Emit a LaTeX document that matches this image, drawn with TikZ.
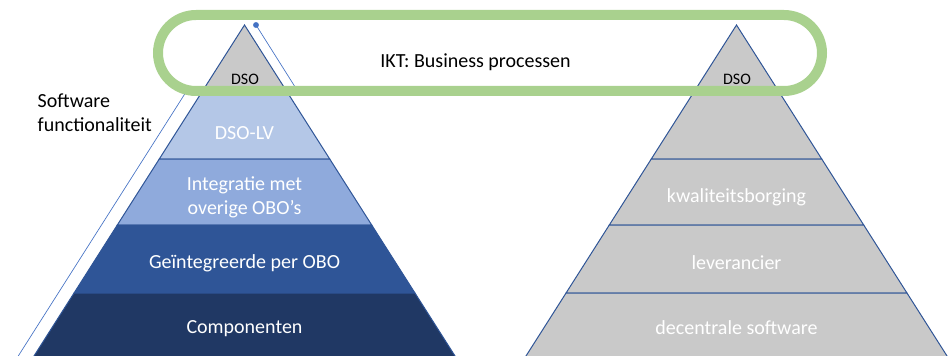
\documentclass[tikz,border=0pt]{standalone}
\usepackage{fontspec}
\setmainfont{Carlito}
\usepackage{tikz}

\definecolor{groen}{HTML}{A9D18E}
\definecolor{rand}{HTML}{2F5597}
\definecolor{lijnblauw}{HTML}{4472C4}
\definecolor{grijs}{HTML}{C9C9C9}
\definecolor{lichtblauw}{HTML}{B4C7E7}
\definecolor{middenblauw}{HTML}{8FAADC}
\definecolor{blauw}{HTML}{2F5597}
\definecolor{donkerblauw}{HTML}{203864}

\begin{document}
\begin{tikzpicture}[x=0.75pt,y=-0.75pt]
	\tikzstyle{laag}=[draw=rand, line width=0.75pt]
	\tikzstyle{tekst}=[font=\fontsize{15}{18}\selectfont, text=white, align=center]
	\tikzstyle{klein}=[font=\fontsize{12}{14}\selectfont, text=black]
	\tikzstyle{dun}=[draw=lijnblauw, line width=0.5pt]
	\tikzstyle{kader}=[draw=groen, line width=7.5pt, rounded corners=28.5pt]

	\useasboundingbox (0,0) rectangle (948,356);
	\clip (0,0) rectangle (948,356);

	% linker piramide
	\foreach \boven/\onder/\kleur in {25/92/grijs,92/159/lichtblauw,159/225/middenblauw,225/293/blauw,293/372/donkerblauw}{
		\pgfmathsetmacro\a{0.636*(\boven-25)}
		\pgfmathsetmacro\b{0.636*(\onder-25)}
		\filldraw[laag, fill=\kleur] (244.5-\a,\boven) -- (244.5+\a,\boven) -- (244.5+\b,\onder) -- (244.5-\b,\onder) -- cycle;
	}

	% rechter piramide
	\foreach \boven/\onder in {25/159,159/225,225/293,293/372}{
		\pgfmathsetmacro\a{0.636*(\boven-25)}
		\pgfmathsetmacro\b{0.636*(\onder-25)}
		\filldraw[laag, fill=grijs] (736.5-\a,\boven) -- (736.5+\a,\boven) -- (736.5+\b,\onder) -- (736.5-\b,\onder) -- cycle;
	}

	% dunne lijnen
	\coordinate (punt) at (256,25);
	\coordinate (punteind) at (297,90);
	\coordinate (lijnboven) at (186,92);
	\coordinate (lijnonder) at (10,369);
	\draw[dun] (punt) -- (punteind);
	\draw[dun] (lijnboven) -- (lijnonder);
	\fill[lijnblauw] (punt) circle (2.2pt);

	% groene kader
	\draw[kader] (158,15) rectangle (822,91);

	\node[tekst, text=black] (ikt) at (475.5,62) {IKT: Business processen};
	\node[tekst, text=black, align=left, anchor=west] (software) at (33,113) {Software\\functionaliteit};

	\node[klein] (dsoL) at (245,79) {DSO};
	\node[tekst] (dsolv) at (244.5,133) {DSO-LV};
	\node[tekst] (integratie) at (244.5,197) {Integratie met\\overige OBO’s};
	\node[tekst] (geintegreerd) at (244.5,263) {Geïntegreerde per OBO};
	\node[tekst] (componenten) at (244.5,329) {Componenten};

	\node[klein] (dsoR) at (737,79) {DSO};
	\node[tekst] (kwaliteit) at (736.5,197) {kwaliteitsborging};
	\node[tekst] (leverancier) at (736.5,263) {leverancier};
	\node[tekst] (decentraal) at (736.5,328) {decentrale software};
\end{tikzpicture}
\end{document}
